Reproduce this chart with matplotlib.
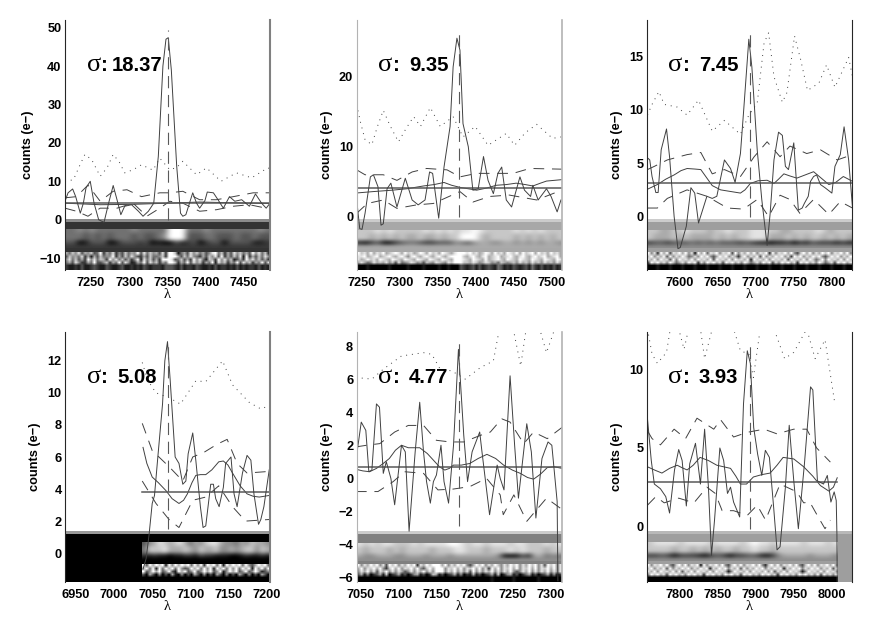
import numpy as np
import matplotlib
matplotlib.use('Agg')
import matplotlib.pyplot as plt

plt.rcParams['font.family'] = ['Liberation Sans', 'DejaVu Sans']

# values, one group per panel
sigma_labels = ['18.37', '9.35', '7.45', '5.08', '4.77', '3.93']
xlims = [(7216, 7484), (7243, 7513), (7557, 7826), (6936, 7204), (7045, 7315), (7757, 8026)]
ylims = [(-13.1, 52.0), (-7.6, 28.1), (-5.0, 18.4), (-1.8, 13.8), (-6.27, 8.85), (-3.55, 12.4)]
xticks = [[7250, 7300, 7350, 7400, 7450], [7250, 7300, 7350, 7400, 7450, 7500], [7600, 7650, 7700, 7750, 7800],
          [6950, 7000, 7050, 7100, 7150, 7200], [7050, 7100, 7150, 7200, 7250, 7300], [7800, 7850, 7900, 7950, 8000]]
yticks = [[-10, 0, 10, 20, 30, 40, 50], [0, 10, 20], [0, 5, 10, 15],
          [0, 2, 4, 6, 8, 10, 12], [-6, -4, -2, 0, 2, 4, 6, 8], [0, 5, 10]]
level = [4.4, 4.15, 3.1, 3.8, 0.7, 2.85]
level_start = [7216, 7243, 7557, 7037, 7045, 7757]
level_end = [7484, 7513, 7826, 7204, 7315, 8007]
marker_x = [7350, 7378, 7692, 7070, 7180, 7892]
marker_lo = [0, 0, 0, 1.5, -2.9, -0.15]
marker_hi = [49.5, 26.7, 17.5, 13.2, 8.3, 11.8]

# panel 1
x1 = [7216, 7220, 7226, 7230, 7236, 7240, 7243.5, 7249, 7254, 7260, 7267, 7273, 7279, 7284, 7289, 7294, 7303, 7312, 7318, 7325, 7332, 7338, 7344, 7348, 7351, 7355, 7362, 7367, 7370, 7374, 7383, 7388, 7392, 7399, 7402, 7410, 7416, 7423, 7431, 7438, 7447, 7457, 7465, 7473, 7479, 7484]
y1 = [4.8, 7, 8, 6, 1.7, 4.3, 8.3, 10, 4.3, 0, -0.7, 4.3, 8.9, 5.2, 1.3, 3.5, 3.9, 2.2, 0.9, 2.2, 4.3, 16.5, 40, 47, 47.4, 39, 14, 1.7, 0.9, 1.3, 7, 4.3, 3, 5, 7.2, 7, 5.2, 3, 6, 4.8, 5.2, 3.5, 6.7, 4.3, 3, 4.3]
sky_x1 = [7216, 7227, 7235, 7242, 7251, 7262, 7271, 7279, 7287, 7294, 7305, 7316, 7331, 7340, 7353, 7362, 7370, 7388, 7401, 7420, 7440, 7460, 7481, 7484]
sky_y1 = [10, 10.4, 14, 17, 15.6, 11.3, 13.5, 17, 15, 12.2, 13, 14.3, 12.9, 16, 13, 13.6, 15.2, 11.7, 13.5, 10, 12.2, 10.9, 13.5, 13.3]
up_x1 = [7216, 7231, 7246, 7262, 7279, 7297, 7316, 7340, 7353, 7370, 7392, 7414, 7436, 7462, 7484]
up_y1 = [5.7, 6, 9, 4.8, 7.4, 7.8, 6, 7, 7, 7.4, 5.2, 5.2, 6, 7, 7]
lo_x1 = [7216, 7231, 7246, 7262, 7284, 7305, 7323, 7340, 7353, 7370, 7392, 7414, 7436, 7457, 7484]
lo_y1 = [3, 2.2, 0.9, 3, 3, 4.3, 0.9, 3, 4.8, 4.3, 2.2, 2.6, 3.5, 3.9, 2.8]
fit_x1 = [7216, 7262, 7305, 7351, 7392, 7436, 7484]
fit_y1 = [4.3, 3.9, 4.0, 4.3, 4.6, 4.4, 4.2]

# panel 2
x2 = [7243, 7247, 7250, 7254, 7261, 7265, 7271, 7275, 7278, 7283, 7288, 7296, 7307, 7316, 7324, 7333, 7339, 7343, 7351, 7358, 7366, 7370, 7375, 7379, 7383, 7390, 7396, 7403, 7410, 7416, 7423, 7429, 7434, 7440, 7447, 7458, 7464, 7472, 7475, 7482, 7493, 7499, 7507, 7512]
y2 = [2.4, -1.7, -1.8, 0.5, 5.7, 6, 4.3, -1.2, -1, 4, 4.8, 1.4, 5.5, 2.4, 1.7, 2.4, 6.4, 6.2, -0.2, 7.1, 12.9, 21.4, 25.5, 23.8, 13.3, 10, 3.8, 4, 8.6, 5.2, 3.3, 6.2, 7.1, 2.4, 1.4, 5.7, 3.8, 2.9, 4.5, 2.4, 4, 2.9, 0.7, 2.4]
sky_x2 = [7243, 7248, 7254, 7263, 7270, 7278, 7287, 7298, 7308, 7318, 7327, 7340, 7353, 7370, 7383, 7399, 7416, 7440, 7451, 7465, 7480, 7501, 7512]
sky_y2 = [16, 13.5, 11, 10.3, 12.8, 15.2, 13, 10.7, 12.6, 14.3, 12.9, 15.6, 12.9, 14.3, 11.4, 12.9, 10.2, 11.9, 10.2, 12, 13.2, 11.2, 11.4]
up_x2 = [7243, 7254, 7265, 7278, 7296, 7316, 7335, 7362, 7379, 7401, 7423, 7449, 7471, 7513]
up_y2 = [6.7, 6, 6, 6, 5.2, 6.4, 6.9, 6.7, 5.7, 6.2, 6.2, 6.2, 6.9, 6.8]
lo_x2 = [7243, 7257, 7278, 7296, 7322, 7344, 7379, 7396, 7418, 7444, 7480, 7513]
lo_y2 = [0.5, 1.9, 2.4, 1.2, 1.7, 1.9, 3.6, 2.1, 2.9, 3.1, 2.4, 3.8]
fit_x2 = [7243, 7265, 7290, 7309, 7331, 7345, 7358, 7368, 7379, 7390, 7401, 7414, 7427, 7440, 7453, 7465, 7475, 7485, 7493, 7513]
fit_y2 = [3.4, 3.6, 3.8, 4, 4.4, 4.6, 4.9, 4.5, 4.2, 4, 3.8, 4.1, 4.5, 4.6, 4.8, 4.6, 4.4, 4.8, 5.1, 5.3]

# panel 3
x3 = [7558, 7561, 7564, 7569, 7572, 7576, 7583, 7587, 7593, 7598, 7601, 7609, 7615, 7620, 7625, 7636, 7643, 7649, 7659, 7667, 7673, 7680, 7684, 7691, 7695, 7702, 7708, 7715, 7719, 7724, 7730, 7735, 7739, 7743, 7750, 7756, 7761, 7764, 7769, 7772, 7776, 7780, 7785, 7791, 7800, 7804, 7811, 7816, 7822, 7827]
y3 = [5.5, 5.3, 3.75, 2.25, 2.25, 6.25, 8.2, 5.6, 0, -3, -2.9, -0.9, 2.7, 2.2, -0.6, 1.9, 1.7, 1.9, 5.3, 4.5, 3.2, 5.9, 9.7, 16.6, 14, 6.25, 1.6, -2.7, 0.3, 5.3, 7.9, 7.6, 4.7, 4.4, 6.9, 0.6, 0.8, 1.25, 1.9, 3.3, 3.75, 3.9, 3, 2.7, 2.2, 4.7, 5.8, 8.4, 5.3, 0.9]
sky_x3 = [7558, 7564, 7573, 7580, 7597, 7610, 7625, 7643, 7659, 7680, 7691, 7702, 7711, 7717, 7724, 7735, 7741, 7751, 7759, 7768, 7783, 7793, 7804, 7822, 7827]
sky_y3 = [9.5, 10.5, 11.7, 10.5, 10.25, 9.5, 10.9, 8, 9, 7.7, 9.5, 10.6, 16.25, 17.2, 13.1, 10.7, 11.6, 16.9, 14.7, 11.8, 12.5, 14.2, 12.1, 14.9, 13.1]
up_x3 = [7558, 7567, 7584, 7610, 7628, 7643, 7659, 7680, 7698, 7715, 7732, 7745, 7767, 7785, 7807, 7827]
up_y3 = [4.4, 4.7, 5.3, 5.8, 6, 4, 4.4, 3.75, 5.6, 7, 5.6, 6.6, 5.9, 6.25, 5.3, 5.8]
lo_x3 = [7558, 7571, 7584, 7610, 7636, 7663, 7684, 7702, 7717, 7732, 7745, 7758, 7776, 7796, 7811, 7827]
lo_y3 = [0.8, 0.8, 1.7, 2.5, 1.9, 0.8, 0.7, 1.6, 0, 2, 1.6, 0.3, 1.6, 0.2, 1.4, 0.8]
fit_x3 = [7558, 7571, 7582, 7593, 7602, 7610, 7620, 7628, 7636, 7643, 7654, 7667, 7680, 7686, 7693, 7703, 7715, 7724, 7730, 7737, 7745, 7754, 7765, 7776, 7786, 7796, 7805, 7815, 7827]
fit_y3 = [2.56, 3, 3.5, 3.9, 4.3, 4.5, 4.45, 4.4, 3.6, 2.9, 2.5, 2.35, 2.2, 2.5, 3.1, 3.35, 3.4, 3.1, 3.5, 4, 3.8, 3.6, 3.9, 4.2, 3.6, 3, 3.2, 3.75, 3.3]

# panel 4
x4 = [7038, 7042, 7046, 7050, 7053, 7057, 7063.5, 7066.5, 7070, 7073.5, 7080, 7085, 7090, 7094, 7097, 7103, 7107, 7113, 7116.5, 7120, 7126.5, 7130, 7133, 7137.5, 7143, 7146, 7153, 7157, 7161, 7168, 7174, 7179, 7183, 7189, 7192, 7196, 7203]
y4 = [-1.0, -0.35, 1.2, 3.1, 3.6, 5.8, 9.3, 12, 13.2, 10.8, 6, 5.6, 4.3, 4.5, 6.2, 7.5, 5.8, 2.9, 1.6, 1.7, 4.3, 4.3, 3.4, 2.9, 4.1, 5.6, 6, 3.7, 2.9, 5, 6.1, 5.8, 3.7, 1.8, 2.1, 2.9, 5.2]
sky_x4 = [7037, 7044, 7055, 7072, 7087, 7107, 7120, 7142, 7155, 7177, 7192, 7203]
sky_y4 = [11.9, 10.8, 10, 9.7, 9.3, 10.75, 10.7, 12, 10.5, 9.4, 9, 9.2]
up_x4 = [7037, 7050, 7072, 7090, 7103, 7118, 7135, 7148, 7161, 7174, 7203]
up_y4 = [8.1, 6.4, 5.4, 4.5, 6, 6.3, 6.8, 7.1, 5.6, 5, 5.1]
lo_x4 = [7037, 7055, 7072, 7085, 7103, 7120, 7137, 7155, 7172, 7203]
lo_y4 = [4.5, 3.1, 2.1, 1.6, 3.3, 3.5, 4.2, 2.9, 2, 2.1]
fit_x4 = [7038, 7043, 7050, 7058, 7068, 7076, 7085, 7091, 7096, 7102, 7107, 7113, 7120, 7128, 7137, 7143, 7149, 7155, 7165, 7174, 7182, 7190, 7203]
fit_y4 = [6.6, 5.6, 4.75, 4.4, 3.9, 3.4, 3.1, 3.3, 3.7, 4.4, 4.85, 4.9, 4.9, 5.2, 5.7, 5.75, 5.5, 5, 4.2, 3.7, 3.55, 3.5, 3.6]

# panel 5
x5 = [7044, 7051, 7057, 7061, 7065, 7071, 7075, 7080, 7084, 7090, 7095, 7104, 7109, 7114, 7122, 7128, 7133, 7137, 7142, 7146, 7150, 7156, 7160, 7166, 7172.5, 7179, 7186, 7191, 7197, 7207, 7210, 7220, 7230, 7234, 7239, 7247, 7253, 7258, 7269, 7275, 7281, 7289, 7297, 7302, 7309, 7310]
y5 = [1.1, 3.4, 2.9, 0.4, 0.5, 4.5, 4.3, 0.3, 1, 0, -1.6, 2, 1.6, -3.2, 1.6, 4.6, 1.6, -0.2, -1.5, -0.2, 0.2, 2, -0.2, -1.5, 2, 7.8, 2.6, -0.2, 1.6, 2.8, 1.6, -2.2, 0.8, 0, -0.7, 6.2, 2, -1.2, 3.3, 1.6, -2.4, 1.2, 2.2, 2, -1.4, -6.2]
sky_x5 = [7044, 7065, 7080, 7104, 7133, 7144, 7155, 7170, 7188, 7208, 7225, 7234, 7250, 7261, 7269, 7285, 7295, 7307, 7315]
sky_y5 = [6.1, 6, 6.6, 7.4, 7.6, 7.5, 6.6, 6.5, 6, 6.7, 7.1, 9.3, 9.3, 6.8, 9.3, 9.2, 7.6, 9.2, 9.5]
up_x5 = [7044, 7058, 7075.5, 7095, 7113, 7133, 7150, 7168, 7186, 7208, 7221, 7236, 7247, 7265, 7278, 7296, 7316]
up_y5 = [1.9, 2, 2.1, 2.8, 3.2, 3.2, 2.3, 2.2, 2.2, 2.6, 2.8, 3.6, 3.4, 2.1, 2.8, 2.4, 3.1]
lo_x5 = [7044, 7058, 7073, 7093, 7108, 7133, 7152, 7172, 7194, 7216, 7234, 7238, 7252, 7269, 7295, 7316]
lo_y5 = [-0.8, -0.8, -0.8, -0.2, 0.4, 0.3, -0.7, -0.65, -0.5, 0, -1, -2.2, -1, -2.6, -1.2, -1.9]
fit_x5 = [7044, 7053, 7062, 7071, 7080, 7088, 7096, 7104, 7113, 7128, 7138, 7146, 7154, 7161, 7167, 7172.5, 7183, 7194, 7205, 7216.5, 7228, 7238.5, 7250, 7260.5, 7270, 7278, 7287, 7296, 7305, 7315.6]
fit_y5 = [0.55, 0.45, 0.4, 0.6, 0.9, 1.2, 1.7, 2, 1.85, 1.85, 1.5, 1.1, 0.7, 0.5, 0.6, 0.8, 0.8, 0.9, 1.2, 1.45, 1.2, 0.8, 0.5, 0.3, 0.05, -0.05, 0.25, 0.65, 0.7, 0.6]

# panel 6
x6 = [7757, 7763, 7767, 7775, 7782, 7787, 7793.5, 7799, 7803.5, 7809, 7813.5, 7821, 7827.5, 7833, 7838, 7842, 7846, 7853, 7858, 7863, 7867, 7871, 7879, 7884, 7889, 7893, 7897.4, 7902.6, 7908, 7912.7, 7918, 7923.6, 7928, 7932, 7939, 7944, 7950, 7956, 7964, 7972, 7975, 7981, 7989, 7994, 7998.7, 8003, 8005.7, 8006.6, 8007]
y6 = [7.4, 4.2, 2.7, 2.4, 1.9, 0.85, 3.6, 4.9, 4.2, 1.3, 4, 5.3, 2.7, 6.2, 2.5, -1.85, 0.4, 5, 4.2, 2.1, 2.5, 1.55, 0.6, 7.8, 11.2, 10.4, 6.3, 4.6, 3.25, 4.85, 4.4, 1.2, -1.5, -1.3, 2.5, 6.45, 2.9, -0.15, 4, 8.9, 8.7, 2.9, 2.7, 3.25, 1.55, 2.2, 1.65, -0.5, -3.6]
sky_x6 = [7758, 7764, 7771, 7783, 7788, 7799, 7806, 7812, 7827.5, 7833, 7843, 7871, 7880, 7891, 7897, 7906, 7924, 7938, 7950, 7967, 7978, 7991, 8004]
sky_y6 = [12.6, 11, 10.4, 11.1, 12.6, 12.6, 11.3, 12.6, 12.6, 10.7, 12.6, 12.6, 11.2, 11, 9.5, 12.6, 12.6, 10.7, 11.1, 12.6, 10.7, 11.9, 7.8]
up_x6 = [7758, 7764, 7775, 7793, 7808, 7823, 7845, 7854, 7871, 7889, 7911, 7928, 7950, 7967, 7980, 7998]
up_y6 = [6.1, 5.6, 5.2, 6.2, 5.6, 6.9, 6.2, 6.8, 5.7, 6, 6.2, 5.9, 6.2, 6.2, 5, 4.1]
lo_x6 = [7758, 7769, 7780, 7799, 7819, 7836, 7847, 7856, 7871, 7889, 7902, 7913, 7932, 7954, 7963, 7971, 7982, 7991, 7998]
lo_y6 = [1.35, 1.9, 1.5, 1.8, 1.5, 2.5, 2.1, 1, 1, 0.7, 1.35, 0.4, 2.7, 2.2, 1.5, 1.55, 0.6, -0.15, 0.4]
fit_x6 = [7758, 7767, 7777, 7787, 7797, 7803, 7810, 7818, 7827, 7838, 7849, 7858, 7867, 7874, 7880, 7888, 7897, 7908, 7919, 7928, 7936, 7950, 7963, 7975, 7985, 7996, 8002, 8007]
fit_y6 = [3.8, 3.6, 3.4, 3.7, 3.9, 3.75, 3.6, 3.9, 4.4, 4.2, 3.9, 3.8, 3.7, 3.2, 2.7, 2.7, 3.15, 3.3, 3.4, 3.9, 4.4, 4.3, 3.8, 3.2, 2.6, 2.25, 2.5, 3.1]

# grey levels of the image strips, digits 0-9 from black to white
band_gray = [0.2, 0.66, 0.62, 0.0, 0.5, 0.62]
cap_gray = [0.55, 0.8, 0.8, 0.6, 0.8, 0.72]
strip_start = [7216, 7243, 7557, 7037, 7045, 7757]
strip_end = [7484, 7513, 7826, 7204, 7315, 8007]

spec1 = ['4454544444454444499944454444444454',
         '4443434344434334599933344333433433',
         '3301333013332301003123023303333112',
         '2222222222222222222222222222222222']
spec2 = ['7778787777787878788987777787878777',
         '7767676766766767799976777767676767',
         '1023002344322333543566556656565665',
         '6666666666666666666666666666666666']
spec3 = ['7766778777677877788877667777876777',
         '7666767666676767788866676767767676',
         '2332333434343332321101120213222121',
         '5555555555555555555555555555555555']
spec4 = ['3568767864657886554657665',
         '4777866676576675565677576',
         '2121101122132211100121121',
         '0000000000000000000000000']
spec5 = ['8787887778788889987887888788777878',
         '7677767677776777887776777878777677',
         '6556665566656665666666650003166454',
         '5555555555555555555555555555555555']
spec6 = ['7888878888788887898878888788878',
         '7777677676767767787767777777777',
         '2232022210232022331025666656665',
         '5555555555555555555555555555555']

noise1 = ['647583657349264825374659384756382997146385746358947263857463958472',
          '375648261637455926374853263744572999637485426375839263748192637485',
          '584736295847629584736259184736299983473629584176295847136295847362',
          '463852264933572649385126493857264997264938572649185726493857264938',
          '211213112321132112311212132122213332131221321121312212131212213121']
noise2 = ['978696879678986978679869786987689998978679869786987969789697869786',
          '889678967897689758976897689768999976897689678967897689768978967896',
          '867978698769876987698769876987699987698769678976987698769876987698',
          '686458676857384568756376587658799977687568756476567586758675867586',
          '000100000010000010000100001001000321231312321431213212314213121312']
noise3 = ['958296938796958196948795879395869695879295879695379695869795879695',
          '795869395869745859795369795862795869395869795829795869795369795869',
          '869597839597869597869397869597869197869597869397869597469597869597',
          '397968597468597928597968397968597468597938597968297968597468397968',
          '000100010001000100010001000100010001000100010001000100010001000100']
noise4 = ['9396979195969794959297949196979495369794',
          '6949194969495349694959196949594969195949',
          '9359693593196935935969359159693593596135',
          '3063050306105030630503063050306305030630',
          '0000000000000000000000000000000000000000']
noise5 = ['958697958397958697928697999695869795369795869758697958697958397958',
          '695879695279695879695379699958796958796958296958796958796958796958',
          '586958386958586358586958599958695858395858695858695358695858695858',
          '361502361702361302561302761302361502161302361702561302461302361502',
          '000000000000000000000000000000000000000000010000001000000010000000']
noise6 = ['95879695379695879195879695379695879695279695879695379695879695',
          '79586939586979586979186979586939586979586979186979586979586939',
          '86959786959386959786959786159786959786959386959786159786959786',
          '59796839796859796829796859796839796859796829796859796859396859',
          '00000000000000000000000000000000000000000000000000000000000000']

line_x = [x1, x2, x3, x4, x5, x6]
line_y = [y1, y2, y3, y4, y5, y6]
sky_x = [sky_x1, sky_x2, sky_x3, sky_x4, sky_x5, sky_x6]
sky_y = [sky_y1, sky_y2, sky_y3, sky_y4, sky_y5, sky_y6]
up_x = [up_x1, up_x2, up_x3, up_x4, up_x5, up_x6]
up_y = [up_y1, up_y2, up_y3, up_y4, up_y5, up_y6]
lo_x = [lo_x1, lo_x2, lo_x3, lo_x4, lo_x5, lo_x6]
lo_y = [lo_y1, lo_y2, lo_y3, lo_y4, lo_y5, lo_y6]
fit_x = [fit_x1, fit_x2, fit_x3, fit_x4, fit_x5, fit_x6]
fit_y = [fit_y1, fit_y2, fit_y3, fit_y4, fit_y5, fit_y6]
specs = [spec1, spec2, spec3, spec4, spec5, spec6]
noises = [noise1, noise2, noise3, noise4, noise5, noise6]

# layout in pixels of the 872x623 picture
W, H = 872, 623
lefts = [65, 356.7, 646.7, 65, 356.7, 646.7]
tops = [20, 20, 20, 332, 332, 332]
ax_w, ax_h = 205, 250
spine_right = ['0.5', '0.7', '0.15', '0.5', '0.7', '0.15']
spine_left = ['0.15', '0.7', '0.15', '0.15', '0.7', '0.15']
spine_right_w = [1.5, 1.2, 0.8, 1.5, 1.2, 0.8]
label_x = [37, 30, 30, 30, 30, 30]


def digits(rows):
    n = max(len(r) for r in rows)
    return np.array([[int(c) for c in r.ljust(n, r[-1])] for r in rows]) / 9.0


fig = plt.figure(figsize=(W / 100, H / 100), dpi=100)
for i in range(6):
    ax = fig.add_axes([lefts[i] / W, 1 - (tops[i] + ax_h) / H, ax_w / W, ax_h / H])
    x0, x1_ = xlims[i]
    y0, y1_ = ylims[i]

    def fy(f):
        return y0 + f * (y1_ - y0)

    # image strip: cap, flat band, 2d spectrum, 1d noise
    ax.axhspan(fy(0), fy(0.204), color=str(cap_gray[i]), lw=0, zorder=0)
    ax.axhspan(fy(0), fy(0.192), color=str(band_gray[i]), lw=0, zorder=0.1)
    s = specs[i]
    ax.imshow(digits([s[0], s[1], s[1], s[2], s[3]]), cmap='gray', vmin=0, vmax=1, aspect='auto',
              interpolation='bicubic', zorder=0.2, extent=(strip_start[i], strip_end[i], fy(0.086), fy(0.158)))
    n = noises[i]
    ax.imshow(digits(n + [n[-1]]), cmap='gray', vmin=0, vmax=1, aspect='auto', interpolation='bilinear',
              zorder=0.2, extent=(strip_start[i], strip_end[i], fy(0), fy(0.072)))
    ax.set_xlim(x0, x1_)
    ax.set_ylim(y0, y1_)

    dark = '0.25'
    ax.plot(sky_x[i], sky_y[i], color=dark, lw=0.7, ls=(0, (1, 5)))
    ax.plot(up_x[i], up_y[i], color=dark, lw=0.7, ls=(0, (11, 8)))
    ax.plot(lo_x[i], lo_y[i], color=dark, lw=0.7, ls=(0, (11, 8)))
    ax.plot(fit_x[i], fit_y[i], color=dark, lw=0.7)
    ax.plot([level_start[i], level_end[i]], [level[i], level[i]], color='0.35', lw=1.1)
    ax.plot(line_x[i], line_y[i], color=dark, lw=0.7)
    ax.plot([marker_x[i], marker_x[i]], [marker_lo[i], marker_hi[i]], color='0.35', lw=0.8, ls=(0, (11, 6)))

    ax.spines['top'].set_visible(False)
    ax.spines['bottom'].set_visible(False)
    ax.spines['left'].set_color(spine_left[i])
    ax.spines['right'].set_color(spine_right[i])
    ax.spines['right'].set_linewidth(spine_right_w[i])
    ax.set_xticks(xticks[i])
    ax.set_yticks(yticks[i])
    ax.tick_params(axis='x', length=0, pad=5, labelsize=9.2)
    ax.tick_params(axis='y', length=0, pad=2.5, labelsize=9.2)
    for t in ax.get_xticklabels() + ax.get_yticklabels():
        t.set_fontweight('bold')

    ax.text(0.5, -0.098, 'λ', transform=ax.transAxes, ha='center', va='center', fontsize=10.5, family='Liberation Serif')
    ax.text(-label_x[i] / ax_w, 0.5, 'counts (e−)', transform=ax.transAxes, rotation=90, ha='center', va='center',
            fontsize=9.2, fontweight='bold')

    # sigma label: serif symbol, then bold number
    ax.text(0.105, 0.797, 'σ', transform=ax.transAxes, fontsize=19, family='Liberation Serif', va='baseline')
    ax.text(0.178, 0.797, ':', transform=ax.transAxes, fontsize=14.6, fontweight='bold', va='baseline')
    num_x = 0.228 if len(sigma_labels[i]) == 5 else 0.255
    ax.text(num_x, 0.797, sigma_labels[i], transform=ax.transAxes, fontsize=14.6, fontweight='bold', va='baseline')

fig.savefig('out.png', dpi=100)
